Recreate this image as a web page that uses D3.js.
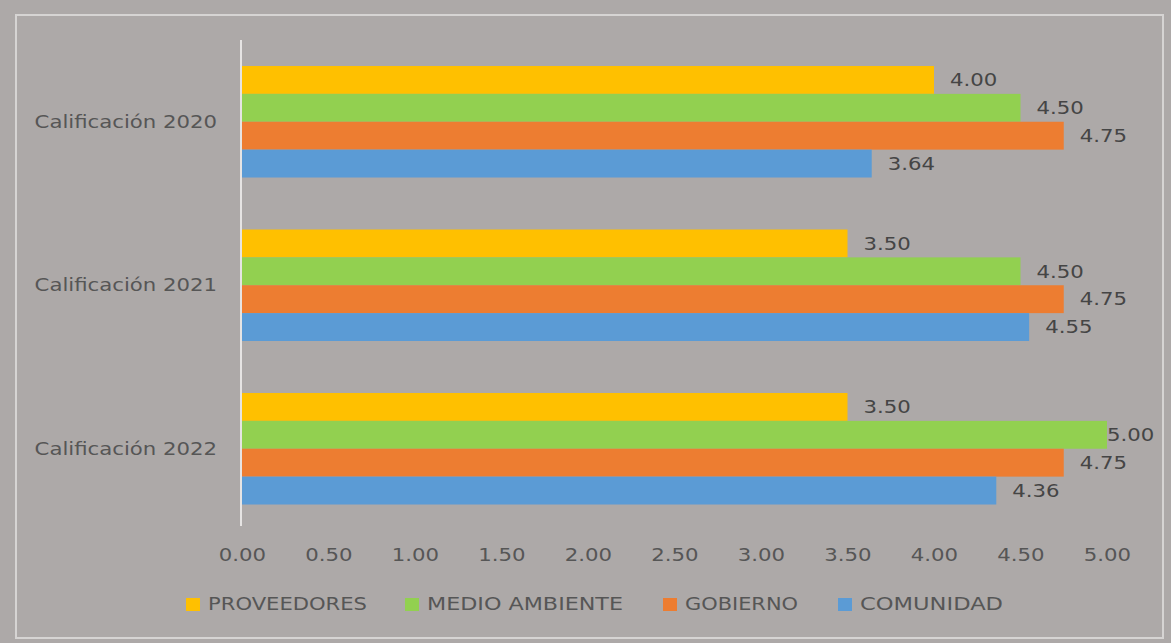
<!DOCTYPE html>
<html>
<head>
<meta charset="utf-8">
<script src="https://cdn.jsdelivr.net/npm/d3@7"></script>
<style>
  html, body { margin: 0; padding: 0; background: #ada9a8; }
  svg { display: block; }
</style>
</head>
<body>
<svg id="chart" width="1171" height="643"></svg>
<script>
// categories top to bottom, series top to bottom inside each group
const categories = ['Calificación 2020', 'Calificación 2021', 'Calificación 2022'];
const series = ['PROVEEDORES', 'MEDIO AMBIENTE', 'GOBIERNO', 'COMUNIDAD'];
const colors = ['#ffc000', '#92d050', '#ed7d31', '#5b9bd5'];
const proveedores = [4.00, 3.50, 3.50];
const medioAmbiente = [4.50, 4.50, 5.00];
const gobierno = [4.75, 4.75, 4.75];
const comunidad = [3.64, 4.55, 4.36];
const xTicks = [0, 0.5, 1, 1.5, 2, 2.5, 3, 3.5, 4, 4.5, 5];

const values = [proveedores, medioAmbiente, gobierno, comunidad];
const rows = categories.map((c, i) => ({
  cat: c,
  vals: series.map((s, j) => ({ s, j, v: values[j][i] }))
}));

const svg = d3.select('#chart');
const W = 1171;
const H = 643;
const font = 'DejaVu Sans, Verdana, sans-serif';
const fs = 18;
const sx = 1.18; // the source picture is stretched sideways

svg.append('rect').attr('width', W).attr('height', H).attr('fill', '#ada9a8');
svg.append('rect')
  .attr('x', 16).attr('y', 15).attr('width', 1147).attr('height', 623)
  .attr('fill', 'none').attr('stroke', '#d6d4d3').attr('stroke-width', 2);

const x = d3.scaleLinear().domain([0, 5]).range([242, 1107]);
const y = d3.scaleBand().domain(categories).range([40, 530.5])
  .paddingInner(0.318).paddingOuter(0.159);
const yIn = d3.scaleBand().domain(series).range([0, y.bandwidth()]);

// x tick labels (no gridlines)
const xAxis = svg.append('g')
  .attr('transform', 'translate(0,554.5)')
  .call(d3.axisBottom(x).tickValues(xTicks).tickFormat(d3.format('.2f')).tickSize(0).tickPadding(0));
xAxis.select('.domain').remove();
xAxis.selectAll('text')
  .attr('font-family', font).attr('font-size', fs).attr('fill', '#565656')
  .attr('y', 0).attr('dy', '0.35em')
  .attr('transform', `scale(${sx},1)`);

// category axis
const yAxis = svg.append('g')
  .attr('transform', 'translate(241,0)')
  .call(d3.axisLeft(y).tickSize(0));
yAxis.select('.domain').attr('stroke', '#e6e4e3').attr('stroke-width', 2)
  .attr('d', 'M0,40V526');
yAxis.selectAll('text')
  .attr('font-family', font).attr('font-size', fs).attr('fill', '#565656')
  .attr('x', -24 / sx)
  .attr('transform', `scale(${sx},1)`);

const groups = svg.selectAll('.grp')
  .data(rows)
  .enter()
  .append('g')
  .attr('class', 'grp')
  .attr('transform', d => `translate(0,${y(d.cat)})`);

groups.selectAll('rect')
  .data(d => d.vals)
  .enter()
  .append('rect')
  .attr('x', x(0))
  .attr('y', d => yIn(d.s))
  .attr('width', d => x(d.v) - x(0))
  .attr('height', yIn.bandwidth())
  .attr('fill', d => colors[d.j]);

groups.selectAll('text')
  .data(d => d.vals)
  .enter()
  .append('text')
  .attr('transform', d => {
    const tx = Math.min(x(d.v) + 16, x(5));
    const ty = yIn(d.s) + yIn.bandwidth() / 2;
    return `translate(${tx},${ty}) scale(${sx},1)`;
  })
  .attr('dy', '0.35em')
  .attr('font-family', font).attr('font-size', fs).attr('fill', '#454545')
  .text(d => d3.format('.2f')(d.v));

// legend (swatch left edge and text width per entry)
const legendX = [186, 405, 663, 838];
const legendW = [159, 196, 113, 143];
const legend = svg.append('g');
series.forEach((s, j) => {
  const g = legend.append('g').attr('transform', `translate(${legendX[j]},598)`);
  g.append('rect').attr('width', 14).attr('height', 13).attr('fill', colors[j]);
  g.append('text')
    .attr('x', 22).attr('y', 6).attr('dy', '0.35em')
    .attr('font-family', font).attr('font-size', fs).attr('fill', '#565656')
    .attr('textLength', legendW[j])
    .attr('lengthAdjust', 'spacingAndGlyphs')
    .text(s);
});
</script>
</body>
</html>
